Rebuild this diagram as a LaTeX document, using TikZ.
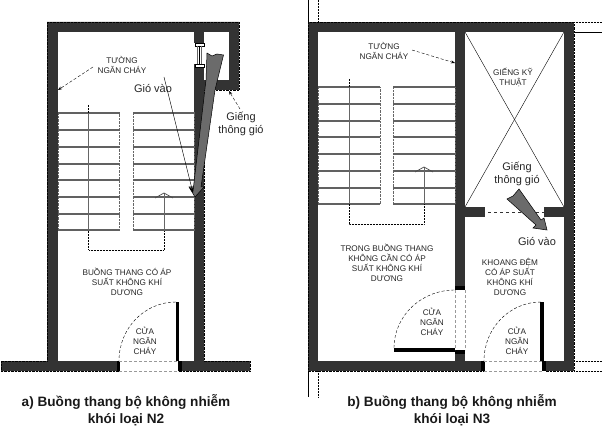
\documentclass[tikz,border=0pt]{standalone}
\usepackage{fontspec}
\setmainfont{Liberation Sans}
\usetikzlibrary{arrows.meta}
\definecolor{wallgray}{gray}{0.2}
\definecolor{ventgray}{gray}{0.42}
\tikzstyle{wall}=[fill=wallgray, draw=black, densely dotted, line width=0.4pt]
\tikzstyle{vent}=[fill=ventgray, draw=black, line width=0.5pt]
\tikzstyle{leaf}=[fill=black, draw=none]
\tikzstyle{tread}=[draw=black!62, line width=1.1pt]
\tikzstyle{flight}=[draw=black!60, densely dotted, line width=0.4pt]
\tikzstyle{swing}=[draw=black, densely dashed, line width=0.4pt]
\tikzstyle{sill}=[draw=black!40, densely dashed, line width=0.4pt]
\tikzstyle{route}=[draw=black, densely dotted, line width=0.5pt]
\tikzstyle{runline}=[draw=black!60, line width=1pt]
\tikzstyle{pointer}=[draw=black, densely dashed, line width=0.4pt, -{Stealth[length=4pt]}]
\tikzstyle{small}=[font=\fontsize{8.2}{10}\selectfont, align=center, inner sep=0pt, text=black!85]
\tikzstyle{note}=[font=\fontsize{11}{13}\selectfont, align=center, inner sep=0pt, text=black!85]
\tikzstyle{caption}=[font=\bfseries\fontsize{13.6}{17}\selectfont, align=center, inner sep=0pt, text=black!90]
\begin{document}
\begin{tikzpicture}[x=1pt, y=-1pt]
	\useasboundingbox (0, 0) rectangle (602, 430);
	% a) N2
	\begin{scope}
		\path [wall] (47, 22) -- (239, 22) -- (239, 90) -- (204, 90) -- (204, 361) -- (250, 361) -- (250, 371)
			-- (1, 371) -- (1, 361) -- (47, 361) -- cycle;
		\fill [white] (58, 32) -- (194, 32) -- (194, 361) -- (58, 361) -- cycle;
		\fill [white] (204, 32) rectangle (229, 80);
		\fill [white] (193.5, 43) rectangle (204.5, 64);
		\fill [white] (119, 360) rectangle (178, 372);
		\foreach \xa in {58, 133} {
			\path [flight] (\xa, 113) rectangle ++(61.5, 117.5);
			\foreach \ya in {113, 130, 147, 164, 180, 197, 214, 230} {
				\path [tread] (\xa, \ya) -- ++(61.5, 0);
			}
		}
		\path [runline] (88.5, 113) -- (88.5, 231);
		\path [runline] (164, 231) -- (164, 193);
		\path [draw=black!70, line width=0.7pt] (155, 198) -- (164, 193) -- (173, 198);
		\path [route] (88.5, 231) -- (88.5, 250) -- (164, 250) -- (164, 231);
		\coordinate (topA) at (88.5, 105);
		\path [draw=black, densely dotted] (topA) -- (88.5, 113);
		% door to the shaft
		\path [draw=black, fill=white, line width=0.4pt] (195, 43) rectangle (204, 46);
		\path [draw=black, fill=white, line width=0.4pt] (195, 64) rectangle (204, 67);
		\path [draw=black!60, line width=0.4pt] (197.5, 46) -- (197.5, 64);
		\path [draw=black!60, line width=0.4pt] (201.5, 46) -- (201.5, 64);
		\path [draw=black, line width=0.4pt] (199.5, 46) -- (199.5, 64);
		% door a
		\path [leaf] (175.5, 302) rectangle (179, 361);
		\path [leaf] (116.5, 361) rectangle (120, 371);
		\path [leaf] (177.5, 361) rectangle (182, 371);
		\path [swing] (176, 302) .. controls (144.5, 302) and (119, 328) .. (119, 361);
		\path [sill] (119, 361) -- (178, 361);
		\path [sill] (119, 371) -- (178, 371);
		% vent arrow
		\path [vent] (207, 53) -- (212, 56) -- (217, 54) -- (223.5, 55) -- (215, 90) -- (201, 187) -- (204, 187)
			-- (195, 197) -- (189, 187) -- (193.5, 187) -- (206, 80) -- cycle;
		\node [note] (windA) at (153, 89) {Gió vào};
		\node [note] (shaftA) at (241, 123.5) {Giếng\\thông gió};
		\node [small] (wallA) at (122, 65) {TƯỜNG\\NGĂN CHÁY};
		\node [small] (roomA) at (127, 282) {BUỒNG THANG CÓ ÁP\\SUẤT KHÔNG KHÍ\\DƯƠNG};
		\node [small] (doorA) at (145, 341) {CỬA\\NGĂN\\CHÁY};
		\node [caption] (capA) at (126, 410.5) {a) Buồng thang bộ không nhiễm\\khói loại N2};
		\coordinate (wallAstart) at (93, 67);
		\coordinate (wallAend) at (58, 90);
		\coordinate (shaftAstart) at (240, 109);
		\coordinate (shaftAend) at (229, 91);
		\coordinate (windAend) at (193, 193);
		\coordinate (windAstart) at (164, 77);
		\path [pointer] (wallAstart) -- (wallAend);
		\path [pointer] (shaftAstart) -- (shaftAend);
		\path [draw=black, line width=0.4pt, -{Stealth[length=6pt]}] (windAstart) -- (windAend);
	\end{scope}
	% b) N3
	\begin{scope}
		\path [wall] (308, 22) rectangle (574, 371);
		\fill [white] (318, 32) rectangle (455, 361);
		\fill [white] (465, 32) rectangle (564, 207);
		\fill [white] (465, 217) rectangle (564, 361);
		\fill [white] (485, 206) rectangle (544, 218);
		\fill [white] (454, 290) rectangle (466, 350);
		\fill [white] (484, 360) rectangle (546, 372);
		\path [draw=black, line width=0.4pt] (465, 32) -- (564, 207);
		\path [draw=black, line width=0.4pt] (564, 32) -- (465, 207);
		\foreach \xa in {318, 393} {
			\path [flight] (\xa, 87) rectangle ++(62, 117);
			\foreach \ya in {87, 104, 121, 137, 154, 171, 188, 204} {
				\path [tread] (\xa, \ya) -- ++(62, 0);
			}
		}
		\path [runline] (349, 87) -- (349, 204);
		\path [runline] (424, 204) -- (424, 167);
		\path [draw=black!70, line width=0.7pt] (415, 172) -- (424, 167) -- (433, 172);
		\path [route] (349, 204) -- (349, 224) -- (424, 224) -- (424, 204);
		\coordinate (topB) at (349, 79);
		\path [draw=black, densely dotted] (topB) -- (349, 87);
		% frame lines
		\path [draw=black, line width=0.5pt] (308, 0) -- (308, 22);
		\path [draw=black, densely dotted, line width=0.5pt] (318, 0) -- (318, 22);
		\path [draw=black, line width=0.5pt] (574, 32) -- (602, 32);
		\path [draw=black, densely dotted, line width=0.5pt] (574, 22) -- (602, 22);
		\path [draw=black, densely dotted, line width=0.5pt] (574, 361) -- (602, 361);
		\path [draw=black, densely dotted, line width=0.5pt] (574, 371) -- (602, 371);
		\path [draw=black, line width=0.5pt] (308, 371) -- (308, 397);
		\path [draw=black, densely dotted, line width=0.5pt] (318, 371) -- (318, 397);
		% doors b
		\path [draw=black!80, dashed, line width=0.8pt] (488, 212) -- (544, 212);
		\path [leaf] (540, 302) rectangle (544, 361);
		\path [leaf] (481, 361) rectangle (485, 371);
		\path [leaf] (542, 361) rectangle (546, 371);
		\path [swing] (541, 302) .. controls (509.5, 302) and (484, 328) .. (484, 361);
		\path [sill] (484, 361) -- (543, 361);
		\path [sill] (484, 371) -- (543, 371);
		\path [leaf] (394, 348) rectangle (455, 351.5);
		\path [leaf] (455, 286) rectangle (465, 290);
		\path [leaf] (455, 350) rectangle (465, 354);
		\path [swing] (394, 348) .. controls (394, 316) and (421, 290) .. (455, 290);
		\path [sill] (455, 290) -- (455, 350);
		\path [sill] (465, 290) -- (465, 350);
		% vent arrow
		\path [vent] (507, 199) -- (513, 196) -- (519, 189) -- (541, 220) -- (544, 218) -- (547, 230) -- (533, 228) -- (536, 225) -- cycle;
		\node [note] (windB) at (537, 242) {Gió vào};
		\node [note] (shaftB) at (517, 173.5) {Giếng\\thông gió};
		\node [small] (wallB) at (384, 51) {TƯỜNG\\NGĂN CHÁY};
		\node [small] (techB) at (513, 77) {GIẾNG KỸ\\THUẬT};
		\node [small] (roomB) at (387, 263) {TRONG BUỒNG THANG\\KHÔNG CẦN CÓ ÁP\\SUẤT KHÔNG KHÍ\\DƯƠNG};
		\node [small] (lobbyB) at (510, 277) {KHOANG ĐỆM\\CÓ ÁP SUẤT\\KHÔNG KHÍ\\DƯƠNG};
		\node [small] (doorB) at (432, 322) {CỬA\\NGĂN\\CHÁY};
		\node [small] (doorC) at (517, 341) {CỬA\\NGĂN\\CHÁY};
		\node [caption] (capB) at (452, 410.5) {b) Buồng thang bộ không nhiễm\\khói loại N3};
		\coordinate (wallBstart) at (412, 50);
		\coordinate (wallBend) at (455, 63);
		\path [pointer] (wallBstart) -- (wallBend);
	\end{scope}
\end{tikzpicture}
\end{document}
